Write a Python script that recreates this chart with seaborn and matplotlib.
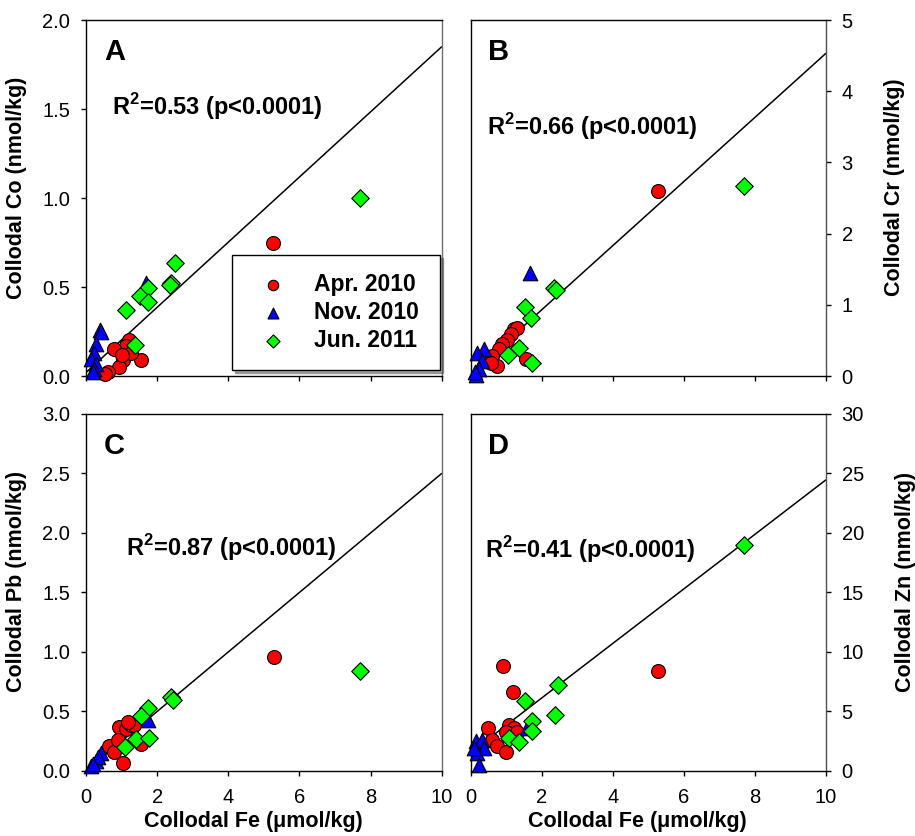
import numpy as np
import pandas as pd
import matplotlib
matplotlib.use("Agg")
import matplotlib.pyplot as plt
import seaborn as sns

# sampling campaigns
campaigns = ["Apr. 2010", "Nov. 2010", "Jun. 2011"]

# Panel A - Co
red_x_A = [5.27, 1.22, 1.13, 0.80, 1.03, 0.94, 0.61, 0.52, 1.55, 1.27, 1.00]
red_y_A = [0.745, 0.20, 0.17, 0.15, 0.09, 0.05, 0.02, 0.01, 0.09, 0.13, 0.12]
blue_x_A = [0.39, 0.42, 0.28, 0.23, 0.14, 0.28, 0.23, 0.19, 1.69]
blue_y_A = [0.26, 0.245, 0.18, 0.13, 0.095, 0.066, 0.04, 0.02, 0.525]
green_x_A = [7.69, 2.49, 2.38, 2.35, 1.74, 1.53, 1.75, 1.13, 1.39]
green_y_A = [1.0, 0.637, 0.525, 0.51, 0.497, 0.45, 0.416, 0.372, 0.174]

# Panel B - Cr
red_x_B = [5.27, 1.22, 1.31, 1.13, 1.03, 0.89, 0.80, 0.61, 0.75, 0.56, 1.55]
red_y_B = [2.6, 0.66, 0.67, 0.59, 0.51, 0.45, 0.38, 0.28, 0.14, 0.19, 0.24]
blue_x_B = [1.67, 0.38, 0.19, 0.33, 0.23, 0.14, 0.12]
blue_y_B = [1.45, 0.38, 0.33, 0.21, 0.10, 0.01, 0.05]
green_x_B = [7.69, 2.35, 2.39, 1.52, 1.71, 1.36, 1.06, 1.74]
green_y_B = [2.67, 1.23, 1.21, 0.97, 0.81, 0.40, 0.30, 0.18]

# Panel C - Pb
red_x_C = [5.28, 0.94, 1.13, 1.27, 1.36, 1.17, 0.66, 0.80, 1.03, 1.55, 0.89]
red_y_C = [0.96, 0.37, 0.35, 0.39, 0.39, 0.41, 0.21, 0.16, 0.07, 0.23, 0.26]
blue_x_C = [0.42, 0.28, 0.14, 1.74, 0.35, 0.20]
blue_y_C = [0.15, 0.08, 0.04, 0.43, 0.12, 0.06]
green_x_C = [7.69, 2.38, 2.44, 1.74, 1.55, 1.41, 1.77, 1.11]
green_y_C = [0.84, 0.62, 0.60, 0.53, 0.46, 0.27, 0.28, 0.20]

# Panel D - Zn
red_x_D = [5.28, 0.92, 1.20, 0.50, 1.08, 1.22, 0.99, 0.61, 0.75, 0.99, 1.31]
red_y_D = [8.4, 8.8, 6.6, 3.65, 3.9, 3.6, 3.3, 2.6, 2.1, 1.6, 3.3]
blue_x_D = [0.14, 0.33, 0.38, 0.19, 0.23, 0.10, 1.6]
blue_y_D = [2.5, 2.6, 1.9, 1.5, 0.5, 1.9, 3.6]
green_x_D = [7.69, 2.46, 1.53, 2.37, 1.72, 1.72, 1.08, 1.36]
green_y_D = [19.0, 7.2, 5.9, 4.7, 4.2, 3.4, 2.8, 2.4]

# regression lines
fit_slope = [0.183, 0.45, 0.25, 2.29]
fit_intercept = [0.02, 0.03, 0.0, 1.55]
r2_labels = ["0.53", "0.66", "0.87", "0.41"]

panel_letters = ["A", "B", "C", "D"]
y_labels = ["Collodal Co (nmol/kg)", "Collodal Cr (nmol/kg)",
            "Collodal Pb (nmol/kg)", "Collodal Zn (nmol/kg)"]
x_label = "Collodal Fe (\u03bcmol/kg)"
y_max = [2.0, 5, 3.0, 30]
y_step = [0.5, 1, 0.5, 5]

sns.set_style("ticks")
plt.rcParams['font.family'] = ['Liberation Sans', 'DejaVu Sans']
plt.rcParams['mathtext.fontset'] = 'custom'
plt.rcParams['mathtext.rm'] = 'Liberation Sans'
plt.rcParams['mathtext.bf'] = 'Liberation Sans:bold'
plt.rcParams['text.color'] = 'black'
plt.rcParams['axes.labelcolor'] = 'black'
plt.rcParams['xtick.color'] = 'black'
plt.rcParams['ytick.color'] = 'black'


def make_df(rx, ry, bx, by, gx, gy):
    frames = []
    for xs, ys, name in [(rx, ry, campaigns[0]), (bx, by, campaigns[1]), (gx, gy, campaigns[2])]:
        frames.append(pd.DataFrame({'fe': xs, 'metal': ys, 'campaign': name}))
    return pd.concat(frames, ignore_index=True)


panels = [
    make_df(red_x_A, red_y_A, blue_x_A, blue_y_A, green_x_A, green_y_A),
    make_df(red_x_B, red_y_B, blue_x_B, blue_y_B, green_x_B, green_y_B),
    make_df(red_x_C, red_y_C, blue_x_C, blue_y_C, green_x_C, green_y_C),
    make_df(red_x_D, red_y_D, blue_x_D, blue_y_D, green_x_D, green_y_D),
]

palette = {campaigns[0]: '#FF0000', campaigns[1]: '#0000FF', campaigns[2]: '#00FF00'}
markers = {campaigns[0]: 'o', campaigns[1]: '^', campaigns[2]: 'D'}
sizes = {campaigns[0]: 100, campaigns[1]: 110, campaigns[2]: 80}

fig = plt.figure(figsize=(9.15, 8.36), dpi=100)
rects = [
    [0.094, 0.5502, 0.3887, 0.4258],
    [0.5144, 0.5502, 0.3880, 0.4258],
    [0.094, 0.0778, 0.3887, 0.4270],
    [0.5144, 0.0778, 0.3880, 0.4270],
]
r2_pos = [(0.073, 0.756), (0.046, 0.70), (0.112, 0.625), (0.04, 0.62)]
ylabel_x = [-0.166, 1.164, -0.166, 1.195]

for i, df in enumerate(panels):
    ax = fig.add_axes(rects[i])
    for name in campaigns:
        sub = df[df['campaign'] == name]
        sns.scatterplot(data=sub, x='fe', y='metal', color=palette[name],
                        marker=markers[name], s=sizes[name], edgecolor='black',
                        linewidth=0.8, ax=ax, clip_on=False, zorder=3,
                        label=name if i == 0 else None, legend=(i == 0))

    xs = np.array([0, 10])
    ax.plot(xs, fit_slope[i] * xs + fit_intercept[i], color='black', lw=1.1, zorder=2)

    ax.set_xlim(0, 10)
    ax.set_ylim(0, y_max[i])
    ax.set_xticks(np.arange(0, 11, 2))
    ax.set_yticks(np.arange(0, y_max[i] + y_step[i] / 2, y_step[i]))
    if y_step[i] < 1:
        ax.set_yticklabels(["%.1f" % v for v in ax.get_yticks()])
    ax.tick_params(axis='x', direction='out', length=3.5, width=1, labelsize=14.5, pad=9)
    ax.tick_params(axis='y', direction='out', length=3.5, width=1, labelsize=14.5, pad=8)

    right_side = i in (1, 3)
    if right_side:
        ax.yaxis.tick_right()
        ax.yaxis.set_label_position('right')
    if i < 2:
        ax.set_xticklabels([])
        ax.set_xlabel('')
    else:
        ax.set_xlabel(x_label, fontsize=15.5, fontweight='bold')
        ax.xaxis.set_label_coords(0.47, -0.112)
    ax.set_ylabel(y_labels[i], fontsize=15.5, fontweight='bold')
    ax.yaxis.set_label_coords(ylabel_x[i], 0.53)

    for side in ['top', 'right', 'left', 'bottom']:
        ax.spines[side].set_visible(True)
        ax.spines[side].set_color('black')
        ax.spines[side].set_linewidth(1)
    ax.spines['right'].set_color('#707070' if not right_side else '#505050')

    ax.text(0.05, 0.91, panel_letters[i], transform=ax.transAxes, fontsize=21,
            fontweight='bold', va='center', ha='left')
    ax.text(r2_pos[i][0], r2_pos[i][1],
            r'R$^{\mathbf{2}}$=' + r2_labels[i] + ' (p<0.0001)',
            transform=ax.transAxes, fontsize=17, fontweight='bold',
            va='center', ha='left')

    if i == 0:
        handles, labels = ax.get_legend_handles_labels()
        leg = ax.legend(handles, labels, loc='lower left', bbox_to_anchor=(0.41, 0.017, 0.585, 0.317),
                        mode='expand', borderaxespad=0, frameon=True, fancybox=False,
                        shadow=True, edgecolor='black', framealpha=1, markerscale=0.75,
                        handlelength=2.0, handletextpad=0.8, borderpad=0.8, labelspacing=0.2,
                        prop={'weight': 'bold', 'size': 16.5})
        leg.get_frame().set_linewidth(1)

plt.savefig('out.png', dpi=100)
